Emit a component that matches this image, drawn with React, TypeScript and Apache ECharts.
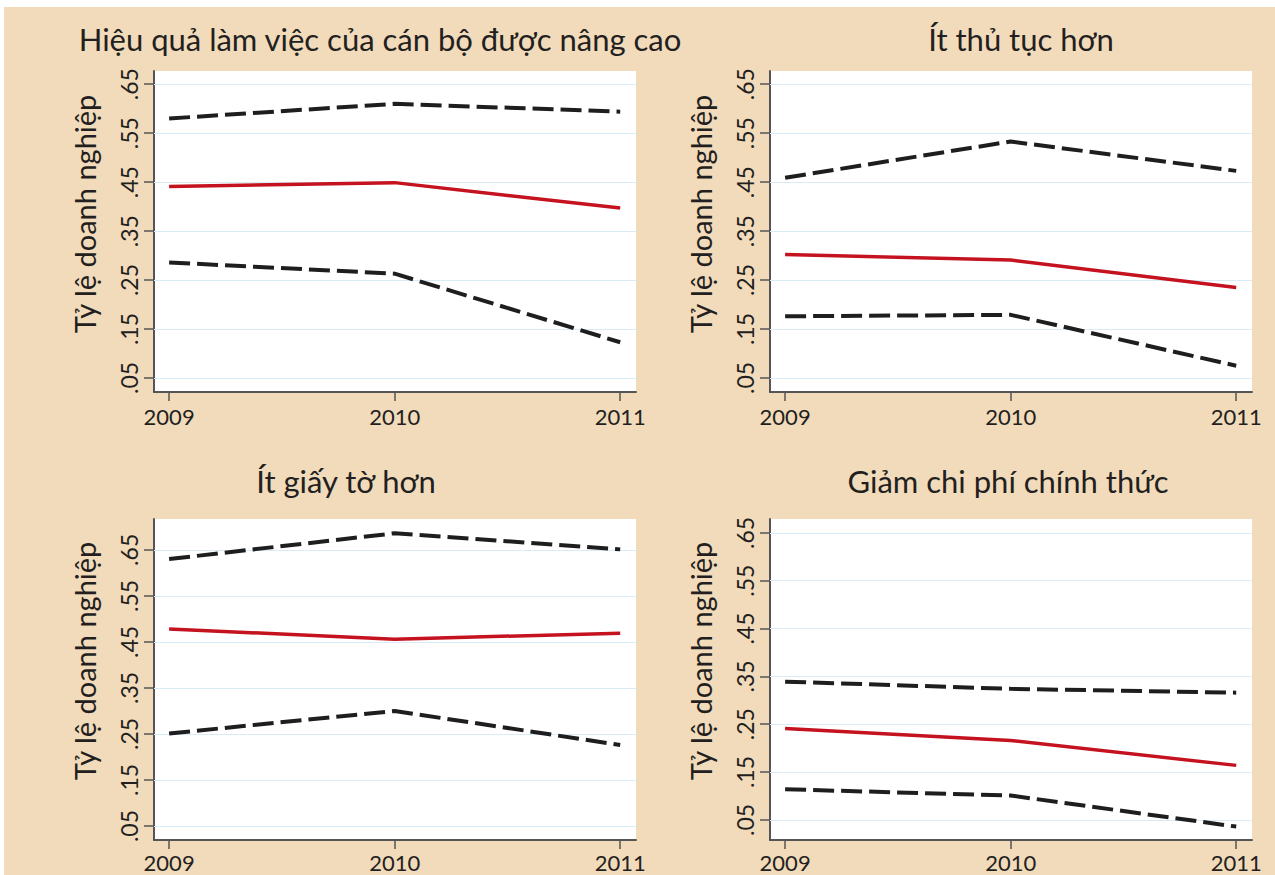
import React, { useEffect, useRef } from "react";
import * as echarts from "echarts";

// ---- data ----
const years = [2009, 2010, 2011];
const yTicks = [0.05, 0.15, 0.25, 0.35, 0.45, 0.55, 0.65];
const panelTitles = [
  "Hiệu quả làm việc của cán bộ được nâng cao",
  "Ít thủ tục hơn",
  "Ít giấy tờ hơn",
  "Giảm chi phí chính thức",
];
const yTitle = "Tỷ lệ doanh nghiệp";

const meanP1 = [0.441, 0.449, 0.397];
const upperP1 = [0.58, 0.61, 0.594];
const lowerP1 = [0.286, 0.263, 0.123];

const meanP2 = [0.302, 0.291, 0.235];
const upperP2 = [0.459, 0.533, 0.473];
const lowerP2 = [0.176, 0.179, 0.075];

const meanP3 = [0.478, 0.456, 0.469];
const upperP3 = [0.63, 0.686, 0.651];
const lowerP3 = [0.251, 0.3, 0.226];

const meanP4 = [0.241, 0.216, 0.164];
const upperP4 = [0.339, 0.324, 0.316];
const lowerP4 = [0.114, 0.101, 0.036];

const panels = [
  { mean: meanP1, upper: upperP1, lower: lowerP1 },
  { mean: meanP2, upper: upperP2, lower: lowerP2 },
  { mean: meanP3, upper: upperP3, lower: lowerP3 },
  { mean: meanP4, upper: upperP4, lower: lowerP4 },
];

// ---- layout / style ----
const grids = [
  { left: 154, top: 71, width: 482, height: 321, ymin: 0.0214, ymax: 0.677, xMargin: 13 },
  { left: 770, top: 71, width: 482, height: 321, ymin: 0.0214, ymax: 0.677, xMargin: 13 },
  { left: 154, top: 519, width: 482, height: 321, ymin: 0.0196, ymax: 0.717, xMargin: 11 },
  { left: 770, top: 519, width: 482, height: 321, ymin: 0.008, ymax: 0.679, xMargin: 11 },
];
const titlePos = [
  { x: 380, y: 39 },
  { x: 1021, y: 39 },
  { x: 346, y: 481 },
  { x: 1008, y: 481 },
];
const yTitlePos = [
  { x: 84, y: 214 },
  { x: 700, y: 214 },
  { x: 84, y: 661 },
  { x: 700, y: 661 },
];

const FONT = "Lato, 'Open Sans', sans-serif";
const TEXT = "#231f20";
const AXIS = "#555555";
const GRIDLINE = "#d8ecf8";
const RED = "#c4121f";
const DARK = "#1e1e1e";
const BG = "#f1dbbb";

export default function App() {
  const ref = useRef<HTMLDivElement>(null);
  useEffect(() => {
    if (!ref.current) return;
    const chart = echarts.init(ref.current, undefined, { renderer: "svg" });
    const xAxis: any[] = [];
    const yAxis: any[] = [];
    const series: any[] = [];
    const graphic: any[] = [
      { type: "rect", shape: { x: 0, y: 0, width: 1275, height: 7 }, style: { fill: "#ffffff" }, silent: true },
      { type: "rect", shape: { x: 0, y: 0, width: 4, height: 875 }, style: { fill: "#ffffff" }, silent: true },
    ];
    grids.forEach((g, i) => {
      xAxis.push({
        type: "value",
        gridIndex: i,
        min: 2008.933,
        max: 2011.07,
        axisLine: { show: true, onZero: false, lineStyle: { color: AXIS, width: 2 } },
        axisTick: { show: true, length: 9, customValues: years, lineStyle: { color: AXIS, width: 1.5 } },
        axisLabel: {
          customValues: years,
          formatter: (v: number) => String(v),
          fontSize: 22,
          lineHeight: 22,
          fontFamily: FONT,
          color: TEXT,
          margin: g.xMargin,
        },
        splitLine: { show: false },
      });
      yAxis.push({
        type: "value",
        gridIndex: i,
        min: g.ymin,
        max: g.ymax,
        axisLine: { show: true, onZero: false, lineStyle: { color: AXIS, width: 2 } },
        axisTick: { show: true, length: 10, customValues: yTicks, lineStyle: { color: AXIS, width: 1.5 } },
        axisLabel: {
          customValues: yTicks,
          rotate: 90,
          formatter: (v: number) => v.toFixed(2).replace(/^0/, ""),
          fontSize: 23,
          fontFamily: FONT,
          color: TEXT,
          margin: 14,
        },
        splitLine: { show: false },
      });
      const p = panels[i];
      const toData = (arr: number[]) => years.map((y, k) => [y, arr[k]]);
      const dashed = {
        type: "line",
        xAxisIndex: i,
        yAxisIndex: i,
        symbol: "none",
        z: 3,
        lineStyle: { color: DARK, width: 4, type: [21, 7], cap: "butt" },
      };
      series.push({ ...dashed, name: "upper" + i, data: toData(p.upper) });
      series.push({ ...dashed, name: "lower" + i, data: toData(p.lower) });
      series.push({
        type: "line",
        name: "mean" + i,
        xAxisIndex: i,
        yAxisIndex: i,
        symbol: "none",
        z: 3,
        data: toData(p.mean),
        lineStyle: { color: RED, width: 3.5 },
        markLine: {
          silent: true,
          symbol: "none",
          z: 1,
          label: { show: false },
          lineStyle: { color: GRIDLINE, width: 1.2, type: "solid" },
          data: yTicks.map((v) => ({ yAxis: v })),
        },
      });
      graphic.push({
        type: "text",
        x: titlePos[i].x,
        y: titlePos[i].y,
        style: {
          text: panelTitles[i],
          fill: TEXT,
          font: `31px ${FONT}`,
          textAlign: "center",
          textVerticalAlign: "middle",
        },
      });
      graphic.push({
        type: "text",
        x: yTitlePos[i].x,
        y: yTitlePos[i].y,
        rotation: Math.PI / 2,
        style: {
          text: yTitle,
          fill: TEXT,
          font: `29px ${FONT}`,
          textAlign: "center",
          textVerticalAlign: "middle",
        },
      });
    });
    chart.setOption({
      animation: false,
      backgroundColor: BG,
      grid: grids.map((g) => ({
        left: g.left,
        top: g.top,
        width: g.width,
        height: g.height,
        show: true,
        backgroundColor: "#ffffff",
        borderWidth: 0,
        containLabel: false,
      })),
      xAxis,
      yAxis,
      series,
      graphic,
    });
    return () => chart.dispose();
  }, []);
  return (
    <div
      ref={ref}
      style={{ position: "fixed", left: 0, top: 0, width: 1275, height: 875 }}
    />
  );
}
